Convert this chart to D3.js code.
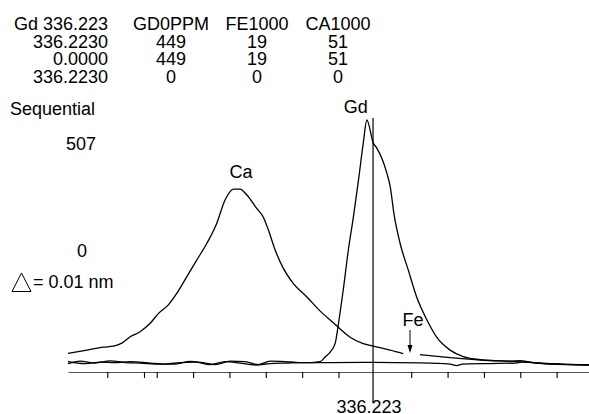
<!DOCTYPE html>
<meta charset="utf-8">
<script src="https://cdn.jsdelivr.net/npm/d3@7"></script>
<style>
body { margin: 0; background: #fff; }
text {
  fill: #000;
  font: 18px "Liberation Sans", Arial, sans-serif;
}
path.scan {
  fill: none;
  stroke: #000;
  stroke-width: 1.3px;
}
</style>
<body>
<script>

// header table
var headerCols = ["GD0PPM", "FE1000", "CA1000"];
var rowLabels = ["336.2230", "0.0000", "336.2230"];
var gdVals = [449, 449, 0];
var feVals = [19, 19, 0];
var caVals = [51, 51, 0];

// line centre and tick marks (nm)
var centreWl = 336.223;
var tickWl = [336.21569, 336.21670, 336.21705, 336.21805, 336.21905, 336.22005,
              336.22105, 336.22205, 336.22405, 336.22505, 336.22605, 336.22705, 336.22805];

// Gd scan
var gdWl = [336.21461, 336.21494, 336.21536, 336.21577, 336.21618, 336.21659, 336.21714,
            336.21756, 336.21797, 336.21838, 336.21866, 336.21907, 336.21948, 336.21984,
            336.22017, 336.22058, 336.22099, 336.22132, 336.22154, 336.22168, 336.22182,
            336.22196, 336.22205, 336.22218, 336.22232, 336.22246, 336.22260, 336.22273,
            336.22283, 336.22301, 336.22310, 336.22338, 336.22347, 336.22358, 336.22374,
            336.22397, 336.22420, 336.22448, 336.22475, 336.22512, 336.22548, 336.22594,
            336.22677, 336.22704, 336.22732, 336.22787, 336.22894];
var gdCounts = [17, 22, 18, 22.5, 19, 18, 16, 16, 21.5, 18, 15, 22, 21, 15, 22, 21, 19, 19,
                20.7, 30, 40, 58, 98, 165, 245, 312, 386, 460, 507, 460, 451, 400, 374, 316,
                260, 205, 151, 105, 70, 44, 31, 25, 22, 23, 20, 16, 14];

// Ca scan (null = gap left for the Fe arrow)
var caWl = [336.21461, 336.21513, 336.21558, 336.21586, 336.21609, 336.21632, 336.21659,
            336.21687, 336.21710, 336.21737, 336.21760, 336.21788, 336.21815, 336.21843,
            336.21870, 336.21893, 336.21916, 336.21934, 336.21953, 336.21980, 336.21998,
            336.22012, 336.22031, 336.22053, 336.22081, 336.22118, 336.22154, 336.22191,
            336.22237, 336.22273, 336.22301, 336.22347, 336.22383, 336.22407, 336.22429,
            336.22512, 336.22594, 336.22695, 336.22787, 336.22894];
var caCounts = [37.6, 44, 50, 52, 58, 71, 81, 98, 118, 135, 158, 192, 225, 259, 299, 346,
                368, 368, 356, 329, 312, 286, 245, 209, 178, 151, 123, 99, 70, 57, 52, 44,
                37, null, 35, 29, 24, 21, 17, 14];

// Fe scan
var feWl = [336.21461, 336.21508, 336.21549, 336.21591, 336.21632, 336.21687, 336.21728,
            336.21769, 336.21811, 336.21852, 336.21893, 336.21934, 336.21976, 336.22017,
            336.22058, 336.22099, 336.22182, 336.22300, 336.22429, 336.22512, 336.22530,
            336.22545, 336.22622, 336.22691, 336.22718, 336.22746, 336.22814, 336.22894];
var feCounts = [21, 17, 20, 19, 21, 18, 16, 19, 20, 15, 21, 18, 14, 17, 18, 18.7, 19, 19.5,
                18.5, 16, 13, 16, 17, 18, 21, 18, 16, 15];

var width = 589,
    height = 414;

var svg = d3.select("body").append("svg")
    .attr("width", width)
    .attr("height", height);

svg.append("rect").attr("width", width).attr("height", height).attr("fill", "#fff");

var x = d3.scaleLinear().domain([336.21461, 336.22894]).range([68, 589]);
var y = d3.scaleLinear().domain([0, 507]).range([372, 120]);

// header block
var colX = [171, 257, 338];
var rowY = [30, 47.5, 65, 82.5];

svg.append("text").attr("x", 108).attr("y", rowY[0])
    .attr("text-anchor", "end").text("Gd " + centreWl);
headerCols.forEach(function(c, i) {
  svg.append("text").attr("x", colX[i]).attr("y", rowY[0])
      .attr("text-anchor", "middle").text(c);
});
rowLabels.forEach(function(r, j) {
  svg.append("text").attr("x", 108).attr("y", rowY[j + 1])
      .attr("text-anchor", "end").text(r);
  [gdVals, feVals, caVals].forEach(function(vals, i) {
    svg.append("text").attr("x", colX[i]).attr("y", rowY[j + 1])
        .attr("text-anchor", "middle").text(vals[j]);
  });
});

// left annotations
svg.append("text").attr("x", 10).attr("y", 115).text("Sequential");
svg.append("text").attr("x", 81).attr("y", 150).attr("text-anchor", "middle").text(y.domain()[1]);
svg.append("text").attr("x", 82).attr("y", 257).attr("text-anchor", "middle").text(y.domain()[0]);
svg.append("path")
    .attr("d", "M12,291.5L31,291.5L21.5,273Z")
    .attr("fill", "none").attr("stroke", "#000").attr("stroke-width", 1);
svg.append("text").attr("x", 33).attr("y", 288).text("= 0.01 nm");

// x axis
var axis = svg.append("g")
    .attr("transform", "translate(0," + y(0) + ")")
    .call(d3.axisBottom(x).tickValues(tickWl).tickSize(6).tickSizeOuter(0).tickFormat(""));
axis.select(".domain").attr("stroke", "#555").attr("stroke-width", 1.2);
axis.selectAll(".tick line").attr("stroke", "#000").attr("stroke-width", 1.1);

// scans
var line = d3.line()
    .defined(function(d) { return d[1] != null; })
    .x(function(d) { return x(d[0]); })
    .y(function(d) { return y(d[1]); })
    .curve(d3.curveMonotoneX);

[[feWl, feCounts], [gdWl, gdCounts], [caWl, caCounts]].forEach(function(s) {
  svg.append("path")
      .attr("class", "scan")
      .attr("d", line(d3.zip(s[0], s[1])));
});

// centre marker
svg.append("line")
    .attr("x1", x(centreWl)).attr("x2", x(centreWl))
    .attr("y1", 118).attr("y2", 403)
    .attr("stroke", "#000").attr("stroke-width", 1.2);
svg.append("text").attr("x", x(centreWl) - 4).attr("y", 413)
    .attr("text-anchor", "middle").text(centreWl);

// peak labels
var gdPeak = gdWl[gdCounts.indexOf(d3.max(gdCounts))];
svg.append("text").attr("x", x(gdPeak) + 1).attr("y", 113)
    .attr("text-anchor", "end").text("Gd");
svg.append("text").attr("x", 241).attr("y", 178)
    .attr("text-anchor", "middle").text("Ca");

// Fe marker
var feX = 410;
svg.append("text").attr("x", feX + 3).attr("y", 326)
    .attr("text-anchor", "middle").text("Fe");
svg.append("line")
    .attr("x1", feX).attr("x2", feX).attr("y1", 330).attr("y2", 347)
    .attr("stroke", "#000").attr("stroke-width", 1);
svg.append("path")
    .attr("d", "M" + (feX - 2.5) + ",345L" + (feX + 2.5) + ",345L" + feX + ",353Z")
    .attr("fill", "#000");

</script>
</body>
